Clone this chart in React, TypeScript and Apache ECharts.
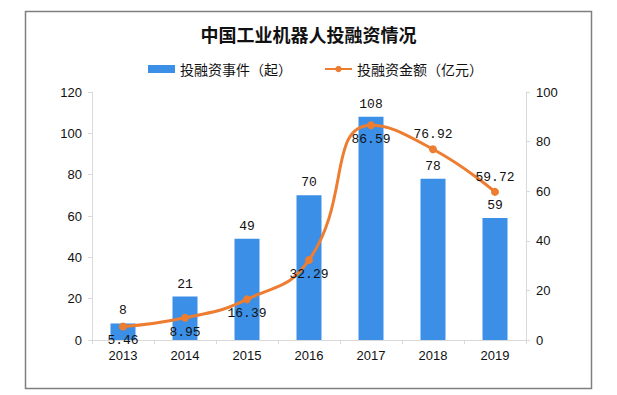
import React, { useEffect, useRef } from "react";
import * as echarts from "echarts";

const years = ["2013", "2014", "2015", "2016", "2017", "2018", "2019"];
const eventCounts = [8, 21, 49, 70, 108, 78, 59];
const amounts = [5.46, 8.95, 16.39, 32.29, 86.59, 76.92, 59.72];
const amountLabelAbove = [false, false, false, false, false, true, true];

export default function App() {
  const ref = useRef<HTMLDivElement>(null);
  useEffect(() => {
    document.body.style.margin = "0";
    const chart = echarts.init(ref.current!, undefined, { renderer: "svg" });
    const labelFont = { fontFamily: "Liberation Mono", fontSize: 13, color: "#111" };
    chart.setOption({
      animation: false,
      backgroundColor: "#fff",
      title: {
        text: "中国工业机器人投融资情况",
        left: "center",
        top: 20,
        textStyle: { fontFamily: "Noto Sans CJK SC", fontSize: 18, fontWeight: "bold", color: "#111" },
      },
      legend: {
        top: 57,
        left: 143,
        itemGap: 32,
        itemWidth: 27,
        itemHeight: 8,
        textStyle: { fontFamily: "Noto Sans CJK SC", fontSize: 14, color: "#111" },
        data: [
          { name: "投融资事件（起）", icon: "rect" },
          { name: "投融资金额（亿元）" },
        ],
      },
      graphic: [
        {
          type: "rect",
          shape: { x: 25.5, y: 11.5, width: 566, height: 377 },
          style: { fill: "none", stroke: "#7f7f7f", lineWidth: 1.5 },
          silent: true,
        },
      ],
      grid: { left: 92, right: 91, top: 92, bottom: 55 },
      xAxis: {
        type: "category",
        data: years,
        axisLine: { lineStyle: { color: "#d9d9d9" } },
        axisTick: { show: true, length: 4, lineStyle: { color: "#d9d9d9" } },
        axisLabel: { fontFamily: "Liberation Sans", fontSize: 13, color: "#111", margin: 9 },
      },
      yAxis: [
        {
          type: "value",
          min: 0,
          max: 120,
          interval: 20,
          axisLine: { show: true, lineStyle: { color: "#d9d9d9" } },
          axisTick: { show: true, length: 4, lineStyle: { color: "#d9d9d9" } },
          splitLine: { show: false },
          axisLabel: { fontFamily: "Liberation Sans", fontSize: 13, color: "#111", margin: 10 },
        },
        {
          type: "value",
          min: 0,
          max: 100,
          interval: 20,
          axisLine: { show: true, lineStyle: { color: "#d9d9d9" } },
          axisTick: { show: true, length: 4, lineStyle: { color: "#d9d9d9" } },
          splitLine: { show: false },
          axisLabel: { fontFamily: "Liberation Sans", fontSize: 13, color: "#111", margin: 10 },
        },
      ],
      series: [
        {
          name: "投融资事件（起）",
          type: "bar",
          yAxisIndex: 0,
          barWidth: 25,
          data: eventCounts,
          itemStyle: { color: "#3b8fe6" },
          label: { show: true, position: "top", distance: 6, ...labelFont },
        },
        {
          name: "投融资金额（亿元）",
          type: "line",
          yAxisIndex: 1,
          smooth: 0.5,
          symbol: "circle",
          symbolSize: 8,
          data: amounts.map((v, i) => ({
            value: v,
            label: { position: amountLabelAbove[i] ? "top" : "bottom" },
          })),
          lineStyle: { color: "#ed7d31", width: 3 },
          itemStyle: { color: "#ed7d31" },
          label: { show: true, distance: 4, ...labelFont },
          z: 3,
        },
      ],
    });
    return () => chart.dispose();
  }, []);
  return <div ref={ref} style={{ width: 617, height: 395 }} />;
}
